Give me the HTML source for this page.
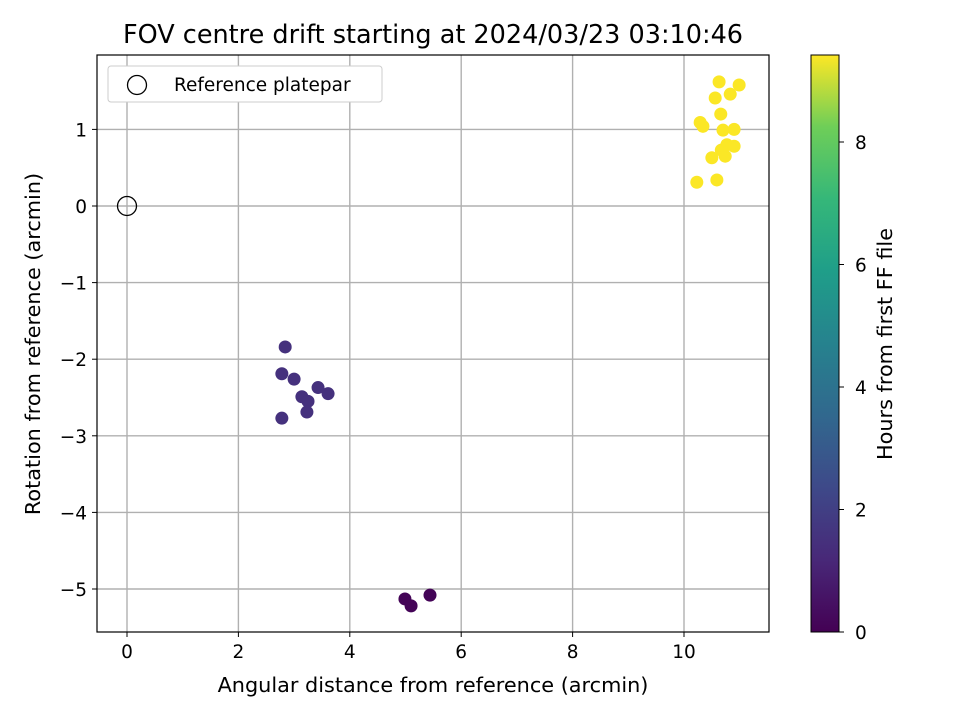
<!DOCTYPE html>
<html><head><meta charset="utf-8"><style>
body{margin:0;background:#fff;font-family:"Liberation Sans","DejaVu Sans",sans-serif}
svg text{font-family:"DejaVu Sans","Liberation Sans",sans-serif;fill:#000}
</style></head><body>
<svg id="chart" width="960" height="720" xmlns="http://www.w3.org/2000/svg">
<defs><linearGradient id="vir" x1="0" y1="1" x2="0" y2="0">
<stop offset="0" stop-color="#440154"/><stop offset="0.125" stop-color="#482878"/><stop offset="0.25" stop-color="#3e4989"/><stop offset="0.375" stop-color="#31688e"/><stop offset="0.5" stop-color="#26828e"/><stop offset="0.625" stop-color="#1f9e89"/><stop offset="0.75" stop-color="#35b779"/><stop offset="0.875" stop-color="#6ece58"/><stop offset="1" stop-color="#fde725"/></linearGradient></defs>
<text x="433" y="43" font-size="25.5" text-anchor="middle">FOV centre drift starting at 2024/03/23 03:10:46</text>
<g id="grid"></g><g id="pts"></g>
<rect x="97" y="55" width="672" height="577" fill="none" stroke="#000" stroke-width="1.2"/>
<g id="ticks"></g>
<text x="433" y="692" font-size="20.8" text-anchor="middle">Angular distance from reference (arcmin)</text>
<text transform="translate(40,344) rotate(-90)" font-size="20.8" text-anchor="middle">Rotation from reference (arcmin)</text>
<g>
<rect x="108" y="66" width="274" height="36" rx="3" fill="#fff" stroke="#ccc"/>
<circle cx="137" cy="85" r="9.5" fill="none" stroke="#000" stroke-width="1.3"/>
<text x="174" y="91" font-size="18.5">Reference platepar</text></g>
<rect x="811" y="55" width="28" height="577" fill="url(#vir)" stroke="#000" stroke-width="1"/>
<g id="cbticks"></g>
<text transform="translate(892,344) rotate(-90)" font-size="20.8" text-anchor="middle">Hours from first FF file</text>
</svg>
<script>
const xs=[10.63,10.99,10.56,10.83,10.66,10.29,10.34,10.70,10.90,10.77,10.90,10.67,10.50,10.74,10.23,10.59,2.84,2.78,3.00,3.43,3.61,3.14,3.25,3.23,2.78,4.99,5.10,5.44];
const ys=[1.62,1.58,1.41,1.46,1.20,1.09,1.04,0.99,1.00,0.80,0.78,0.73,0.63,0.65,0.31,0.34,-1.84,-2.19,-2.26,-2.37,-2.45,-2.49,-2.55,-2.69,-2.77,-5.13,-5.22,-5.08];
const hours=[9.4,9.4,9.4,9.4,9.4,9.4,9.4,9.4,9.4,9.4,9.4,9.4,9.4,9.4,9.4,9.4,1.5,1.5,1.5,1.5,1.5,1.5,1.5,1.5,1.5,0.1,0.1,0.1];
const xTicks=[0,2,4,6,8,10];
const yTicks=[1,0,-1,-2,-3,-4,-5];
const cTicks=[0,2,4,6,8];
const X=v=>127+v*55.7, Y=v=>206-v*76.6, C=v=>632-v*61.25, CMAX=9.42;
const vir=[[68,1,84],[72,40,120],[62,73,137],[49,104,142],[38,130,142],[31,158,137],[53,183,121],[110,206,88],[253,231,37]];
function col(h){let t=Math.max(0,Math.min(1,h/CMAX))*8,i=Math.min(7,Math.floor(t)),f=t-i,a=vir[i],b=vir[i+1];return `rgb(${a.map((v,k)=>Math.round(v+(b[k]-v)*f)).join(',')})`;}
const NS='http://www.w3.org/2000/svg';
function mk(tag,at,par){const e=document.createElementNS(NS,tag);for(const k in at)e.setAttribute(k,at[k]);document.getElementById(par).appendChild(e);return e;}
xTicks.forEach(v=>{const x=X(v);
let g=mk('line',{x1:x,x2:x,y1:55,y2:632,stroke:'#b0b0b0','stroke-width':1.4},'grid');


let t=mk('line',{x1:x,x2:x,y1:632,y2:637,stroke:'#000'},'ticks');


let l=mk('text',{x:x,y:658,'font-size':18.5,'text-anchor':'middle'},'ticks');l.textContent=v;

});
yTicks.forEach(v=>{const y=Y(v);
let g=mk('line',{x1:97,x2:769,y1:y,y2:y,stroke:'#b0b0b0','stroke-width':1.4},'grid');


let t=mk('line',{x1:92,x2:97,y1:y,y2:y,stroke:'#000'},'ticks');


let l=mk('text',{x:87,y:y+7,'font-size':18.5,'text-anchor':'end'},'ticks');l.textContent=v<0?'\u2212'+(-v):v;

});
cTicks.forEach(v=>{const y=C(v);
let t=mk('line',{x1:839,x2:844,y1:y,y2:y,stroke:'#000'},'cbticks');


let l=mk('text',{x:855,y:y+7,'font-size':18.5},'cbticks');l.textContent=v;

});
let r=mk('circle',{cx:X(0),cy:Y(0),r:9.5,fill:'none',stroke:'#000','stroke-width':1.3},'pts');


xs.forEach((v,i)=>{let c=mk('circle',{cx:X(v),cy:Y(ys[i]),r:6.5,fill:col(hours[i])},'pts');

});
</script>
</body></html>
